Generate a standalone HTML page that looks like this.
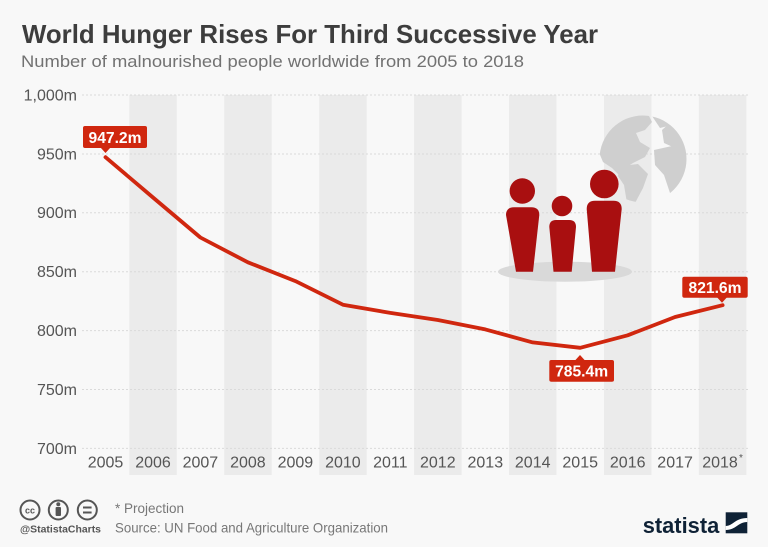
<!DOCTYPE html>
<html>
<head>
<meta charset="utf-8">
<style>
  html, body { margin:0; padding:0; background:#f8f8f8; }
  body { width:768px; height:547px; overflow:hidden; }
  svg { display:block; font-family:"Liberation Sans", "DejaVu Sans", sans-serif; }
</style>
</head>
<body>
<svg width="768" height="547" viewBox="0 0 768 547" xmlns="http://www.w3.org/2000/svg">
  <rect x="0" y="0" width="768" height="547" fill="#f8f8f8"/>

  <!-- Title -->
  <text x="22" y="43" font-size="26" font-weight="bold" fill="#3d3d3d" textLength="576" lengthAdjust="spacingAndGlyphs">World Hunger Rises For Third Successive Year</text>
  <text x="21" y="67" font-size="16.5" fill="#727272" textLength="503" lengthAdjust="spacingAndGlyphs">Number of malnourished people worldwide from 2005 to 2018</text>

  <!-- Bands (even years) -->
  <g fill="#ebebeb">
    <rect x="129.3" y="95" width="47.5" height="380"/>
    <rect x="224.2" y="95" width="47.5" height="380"/>
    <rect x="319.2" y="95" width="47.5" height="380"/>
    <rect x="414.1" y="95" width="47.5" height="380"/>
    <rect x="509.0" y="95" width="47.5" height="380"/>
    <rect x="604.0" y="95" width="47.5" height="380"/>
    <rect x="698.9" y="95" width="47.5" height="380"/>
  </g>

  <!-- Gridlines -->
  <g stroke="#dadada" stroke-width="1" stroke-dasharray="2,2">
    <line x1="82" y1="95" x2="748" y2="95"/>
    <line x1="82" y1="154" x2="748" y2="154"/>
    <line x1="82" y1="212.7" x2="748" y2="212.7"/>
    <line x1="82" y1="271.7" x2="748" y2="271.7"/>
    <line x1="82" y1="330.6" x2="748" y2="330.6"/>
    <line x1="82" y1="389.5" x2="748" y2="389.5"/>
    <line x1="82" y1="448.4" x2="748" y2="448.4"/>
  </g>

  <!-- Y labels -->
  <g font-size="16" fill="#555" text-anchor="end">
    <text x="77" y="100.5">1,000m</text>
    <text x="77" y="159.5">950m</text>
    <text x="77" y="218.2">900m</text>
    <text x="77" y="277.2">850m</text>
    <text x="77" y="336.1">800m</text>
    <text x="77" y="395">750m</text>
    <text x="77" y="454">700m</text>
  </g>

  <!-- X labels -->
  <g font-size="16" fill="#555" text-anchor="middle">
    <text x="105.5" y="467.7">2005</text>
    <text x="153.0" y="467.7">2006</text>
    <text x="200.4" y="467.7">2007</text>
    <text x="247.9" y="467.7">2008</text>
    <text x="295.4" y="467.7">2009</text>
    <text x="342.9" y="467.7">2010</text>
    <text x="390.3" y="467.7">2011</text>
    <text x="437.8" y="467.7">2012</text>
    <text x="485.3" y="467.7">2013</text>
    <text x="532.7" y="467.7">2014</text>
    <text x="580.2" y="467.7">2015</text>
    <text x="627.7" y="467.7">2016</text>
    <text x="675.1" y="467.7">2017</text>
    <text x="720.0" y="467.7">2018</text>
  </g>
  <text x="739" y="461" font-size="10" fill="#555">*</text>

  <!-- Globe -->
  <defs>
    <clipPath id="globeClip"><circle cx="643" cy="159" r="43.5"/></clipPath>
  </defs>
  <g clip-path="url(#globeClip)" fill="#cfcfcf">
    <polygon points="598,150 602,130 615,119 635,113 648,114 652,122 645,130 636,133 640,142 650,148 645,157 633,163 625,168 619,175 612,168 603,162"/>
    <polygon points="652,116 665,113 672,118 668,126 660,128"/>
    <polygon points="662,130 672,121 682,125 690,138 690,150 675,148 664,143"/>
    <polygon points="654,150 672,146 690,150 688,175 678,195 670,193 664,175 655,165"/>
    <polygon points="620,166 638,164 648,174 643,188 634,205 627,203 624,185 618,176"/>
  </g>

  <!-- People -->
  <ellipse cx="565" cy="271.7" rx="67" ry="10" fill="#d9d9d9"/>
  <g fill="#a90f10">
    <circle cx="522.3" cy="191" r="12.7"/>
    <path d="M506,215 Q506,207.3 514,207.3 L531.3,207.3 Q539.3,207.3 539.3,215 L533,271.7 L516,271.7 Z"/>
    <circle cx="562" cy="206" r="10.3"/>
    <path d="M549.3,227 Q549.3,220 556,220 L569.3,220 Q576,220 576,227 L571.7,271.7 L553.5,271.7 Z"/>
    <circle cx="604.3" cy="184" r="14.3"/>
    <path d="M586.7,209 Q586.7,200.7 595,200.7 L613.4,200.7 Q621.7,200.7 621.7,209 L615,271.7 L592,271.7 Z"/>
  </g>

  <!-- Line -->
  <polyline fill="none" stroke="#d0270f" stroke-width="3.8" stroke-linejoin="round" stroke-linecap="round"
    points="105.5,157.2 153.0,197.5 200.4,237.5 247.9,262.3 295.4,281.1 342.9,304.7 390.3,312.9 437.8,320.0 485.3,329.4 532.7,342.4 580.2,347.8 627.7,335.3 675.1,317.0 722.6,305.2"/>

  <!-- Value labels -->
  <g fill="#d0270f">
    <rect x="83" y="126" width="64" height="22" rx="2"/>
    <polygon points="100.5,147.5 110.5,147.5 105.5,153"/>
    <rect x="549.3" y="360" width="64.7" height="21.7" rx="2"/>
    <polygon points="575,360.5 585,360.5 580,355"/>
    <rect x="682.3" y="276.7" width="65.4" height="21" rx="2"/>
    <polygon points="717,297.2 727,297.2 722,302.7"/>
  </g>
  <g fill="#ffffff" font-size="15.5" font-weight="bold" text-anchor="middle">
    <text x="115" y="143" textLength="53" lengthAdjust="spacingAndGlyphs">947.2m</text>
    <text x="581.6" y="376.5" textLength="53" lengthAdjust="spacingAndGlyphs">785.4m</text>
    <text x="715" y="293" textLength="53" lengthAdjust="spacingAndGlyphs">821.6m</text>
  </g>

  <!-- Footer icons -->
  <g fill="none" stroke="#555" stroke-width="2">
    <circle cx="30" cy="510" r="9.5"/>
    <circle cx="58.3" cy="510" r="9.5"/>
    <circle cx="87.3" cy="510" r="9.5"/>
    <line x1="83" y1="507.5" x2="91.6" y2="507.5"/>
    <line x1="83" y1="512.5" x2="91.6" y2="512.5"/>
  </g>
  <text x="30" y="513.5" font-size="9" font-weight="bold" fill="#555" text-anchor="middle">cc</text>
  <g fill="#555">
    <circle cx="58.3" cy="504.3" r="2"/>
    <rect x="55.6" y="507" width="5.4" height="9" rx="1"/>
  </g>
  <text x="20" y="532.7" font-size="10.5" font-weight="bold" fill="#555" textLength="81" lengthAdjust="spacingAndGlyphs">@StatistaCharts</text>

  <text x="115" y="513" font-size="14" fill="#777" textLength="69" lengthAdjust="spacingAndGlyphs">* Projection</text>
  <text x="115" y="532.5" font-size="14" fill="#777" textLength="273" lengthAdjust="spacingAndGlyphs">Source: UN Food and Agriculture Organization</text>

  <!-- Statista logo -->
  <text x="642.7" y="533" font-size="22" font-weight="bold" fill="#0f2236" textLength="76.6" lengthAdjust="spacingAndGlyphs">statista</text>
  <rect x="725.7" y="512.3" width="21.6" height="21" fill="#0f2236"/>
  <path d="M725.7,526 C733,526 735,518 747.3,518 L747.3,522 C738,522 736,530 725.7,530 Z" fill="#ffffff"/>
</svg>
</body>
</html>
